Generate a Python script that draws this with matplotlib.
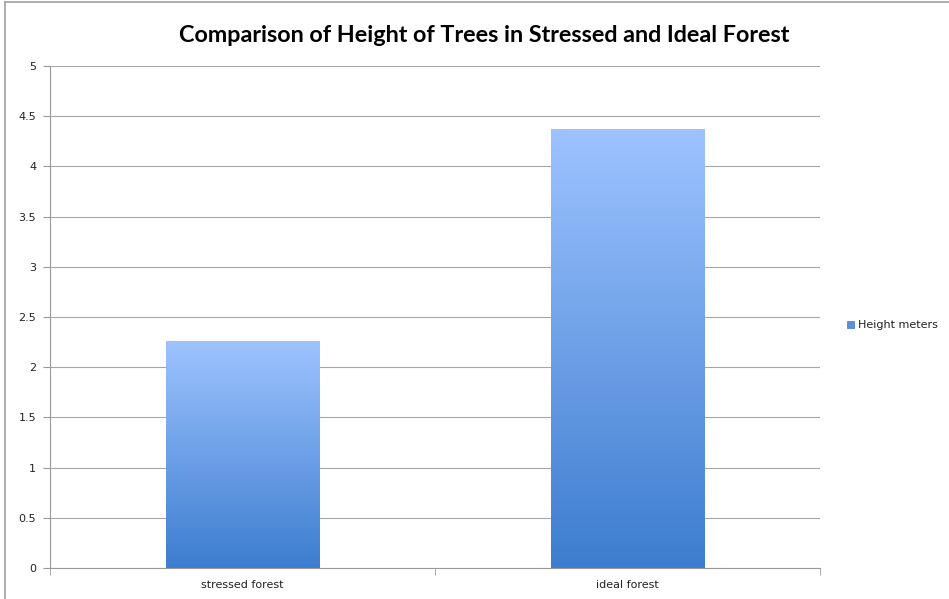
import matplotlib
matplotlib.use("Agg")
import matplotlib.pyplot as plt
import numpy as np
from matplotlib.colors import LinearSegmentedColormap
from matplotlib.patches import Rectangle
from matplotlib.lines import Line2D

categories = ["stressed forest", "ideal forest"]
heights = [2.26, 4.37]
series_name = "Height meters"
title = "Comparison of Height of Trees in Stressed and Ideal Forest"
yticks = [0, 0.5, 1, 1.5, 2, 2.5, 3, 3.5, 4, 4.5, 5]
ytick_labels = ["0", "0.5", "1", "1.5", "2", "2.5", "3", "3.5", "4", "4.5", "5"]

W, H = 949, 599
fig = plt.figure(figsize=(W / 100, H / 100), dpi=100)
ax = fig.add_axes([50 / W, 1 - 568 / H, (820 - 50) / W, (568 - 66) / H])

cmap = LinearSegmentedColormap.from_list("g", ["#3d7dcf", "#9dc3ff"])
grad = np.linspace(0, 1, 256).reshape(-1, 1)
bw = 0.4
for i, h in enumerate(heights):
    ax.imshow(grad, extent=(i - bw / 2, i + bw / 2, 0, h), origin="lower",
              cmap=cmap, aspect="auto", zorder=2)

ax.set_xlim(-0.5, len(categories) - 0.5)
ax.set_ylim(0, 5)
ax.set_yticks(yticks)
ax.set_yticklabels(ytick_labels)
ax.set_xticks(range(len(categories)))
ax.set_xticklabels(categories)
ax.set_xticks([-0.5, 0.5, 1.5], minor=True)
ax.tick_params(axis="x", which="major", length=0, pad=9, labelsize=8, labelcolor="#222222")
ax.tick_params(axis="x", which="minor", length=5, color="#999999", direction="out")
ax.tick_params(axis="y", length=5, color="#999999", pad=5, labelsize=8, labelcolor="#222222")
ax.grid(axis="y", color="#a6a6a6", linewidth=0.8, zorder=0)
ax.set_axisbelow(True)
for s in ["top", "right"]:
    ax.spines[s].set_visible(False)
for s in ["left", "bottom"]:
    ax.spines[s].set_color("#999999")
    ax.spines[s].set_linewidth(0.8)

fig.text(484 / W, 1 - 35 / H, title, ha="center", va="center",
         fontsize=16.8, fontweight="bold", family="Lato", color="black")

# legend
fig.patches.append(Rectangle((847 / W, 1 - 328 / H), 7 / W, 7 / H,
                             transform=fig.transFigure, facecolor="#5a8fdc",
                             edgecolor="#3d7dcf", linewidth=0.5))
fig.text(858 / W, 1 - 325 / H, series_name, ha="left", va="center",
         fontsize=8, color="#222222")

# chart border
fig.lines.append(Line2D([5 / W, 5 / W], [0, 1 - 2 / H], transform=fig.transFigure,
                        color="#a0a0a0", linewidth=1.2))
fig.lines.append(Line2D([5 / W, 1], [1 - 2 / H, 1 - 2 / H], transform=fig.transFigure,
                        color="#a0a0a0", linewidth=1.2))

fig.savefig("out.png", dpi=100)
